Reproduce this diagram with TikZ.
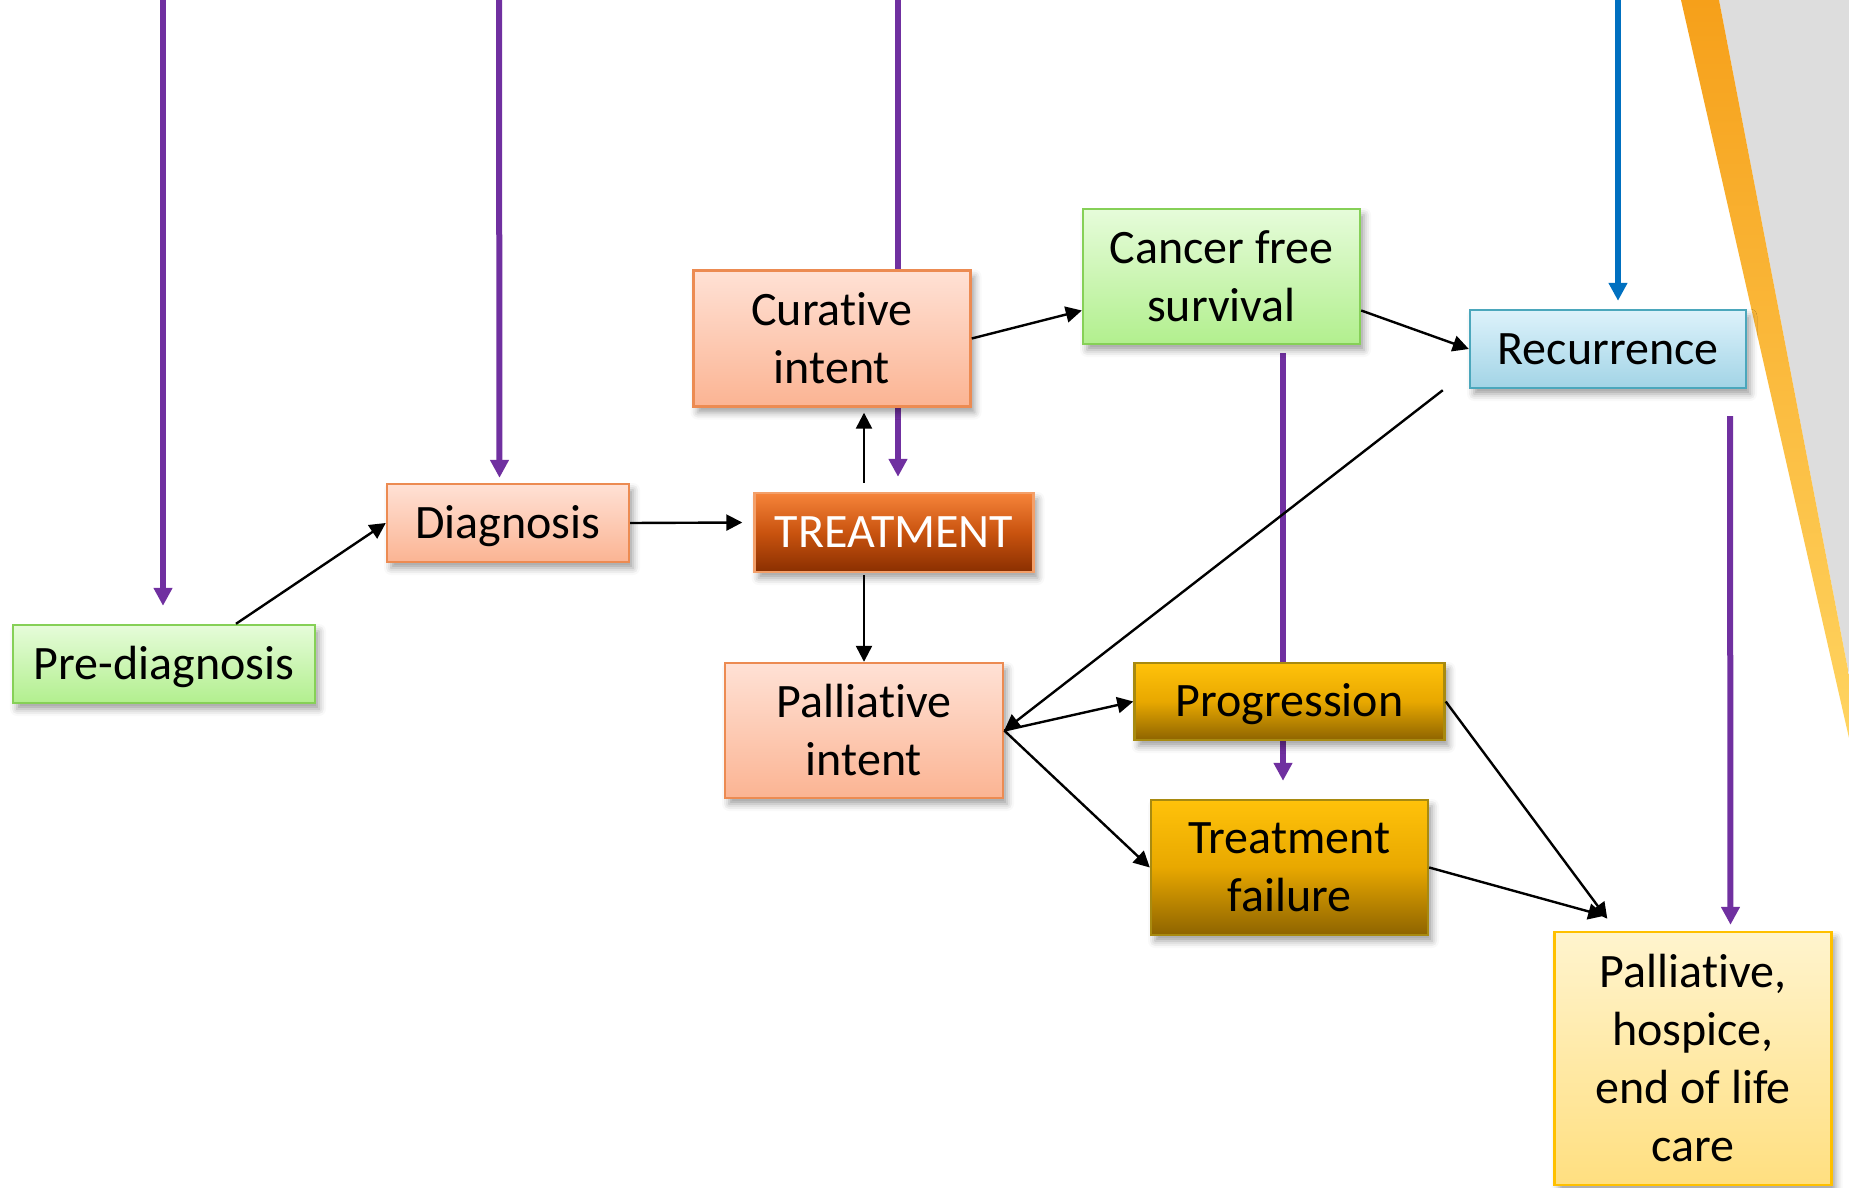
\documentclass[tikz,border=0pt]{standalone}
\usepackage{fontspec}
\setmainfont{Carlito}[Ligatures=NoCommon]
\usetikzlibrary{arrows.meta,shadows.blur}

% palette
\definecolor{greenTop}{HTML}{E6FCDA}
\definecolor{greenBot}{HTML}{B2EF8E}
\definecolor{greenEdge}{HTML}{86D057}
\definecolor{salmonTop}{HTML}{FFE1D5}
\definecolor{salmonBot}{HTML}{FBB493}
\definecolor{salmonEdge}{HTML}{EC8B52}
\definecolor{treatTop}{HTML}{F6843A}
\definecolor{treatMid}{HTML}{C9530F}
\definecolor{treatBot}{HTML}{8A2F00}
\definecolor{treatEdge}{HTML}{F3A06A}
\definecolor{aquaTop}{HTML}{DDF2FB}
\definecolor{aquaBot}{HTML}{A2D4E6}
\definecolor{aquaEdge}{HTML}{4BA7BC}
\definecolor{goldTop}{HTML}{FFC20A}
\definecolor{goldMid}{HTML}{E8A800}
\definecolor{goldBot}{HTML}{8E6400}
\definecolor{goldEdge}{HTML}{A88A10}
\definecolor{creamTop}{HTML}{FFF4CE}
\definecolor{creamBot}{HTML}{FFDF80}
\definecolor{creamEdge}{HTML}{FFC000}
\definecolor{trackPurple}{HTML}{7030A0}
\definecolor{trackBlue}{HTML}{0070C0}
\definecolor{wedgeGray}{HTML}{DDDDDD}
\definecolor{wedgeTop}{HTML}{F6A01A}
\definecolor{wedgeBot}{HTML}{FFD460}

\pgfdeclarelayer{back}
\pgfsetlayers{back,main}

\tikzset{
  stagebox/.style={draw, line width=1.2pt, inner sep=0pt, align=center,
    font=\fontsize{24}{29}\selectfont,
    blur shadow={shadow xshift=2pt, shadow yshift=-3pt,
      shadow blur radius=3.5pt, shadow opacity=38}},
  oneline/.style={text height=18.5pt, text depth=3.5pt},
  greenbox/.style={stagebox, draw=greenEdge, top color=greenTop, bottom color=greenBot},
  salmonbox/.style={stagebox, draw=salmonEdge, top color=salmonTop, bottom color=salmonBot},
  treatbox/.style={stagebox, draw=treatEdge, text=white,
    top color=treatTop, bottom color=treatBot, middle color=treatMid},
  aquabox/.style={stagebox, draw=aquaEdge, top color=aquaTop, bottom color=aquaBot},
  goldbox/.style={stagebox, draw=goldEdge,
    top color=goldTop, bottom color=goldBot, middle color=goldMid},
  creambox/.style={stagebox, draw=creamEdge, top color=creamTop, bottom color=creamBot},
  flow/.style={line width=1.2pt, -{Triangle[length=8pt,width=8pt]}},
  track/.style={line width=3pt, draw=trackPurple,
    -{Triangle[length=9pt,width=9pt,fill=trackPurple]}},
  bluetrack/.style={line width=3pt, draw=trackBlue,
    -{Triangle[length=9pt,width=9pt,fill=trackBlue]}},
}

\begin{document}
\begin{tikzpicture}[x=0.5pt,y=-0.5pt]
\useasboundingbox (0,0) rectangle (1849,1188);

% corner decoration
\fill[wedgeGray] (1719,0) -- (1849,0) -- (1849,675) -- cycle;
\shade[top color=wedgeTop, bottom color=wedgeBot]
  (1681,0) -- (1719,0) -- (1849,675) -- (1849,738) -- cycle;

% stages
\node[greenbox, oneline, minimum width=151pt, minimum height=39pt] (pre) at (164,664) {Pre-diagnosis};
\node[salmonbox, oneline, minimum width=121pt, minimum height=39pt] (diag) at (508,523) {Diagnosis};
\node[treatbox, oneline, minimum width=139.5pt, minimum height=39.5pt] (treat) at (894,532.5) {TREATMENT};
\node[salmonbox, minimum width=138.5pt, minimum height=68pt] (cur) at (832,338.5) {Curative\\intent};
\node[greenbox, minimum width=138.5pt, minimum height=67.5pt] (cfs) at (1221.5,276.5) {Cancer free\\survival};
\node[aquabox, oneline, minimum width=138pt, minimum height=39pt] (rec) at (1608,349) {Recurrence};
\node[salmonbox, minimum width=139pt, minimum height=67.5pt] (pint) at (864,730.5) {Palliative\\intent};
\node[goldbox, oneline, minimum width=155pt, minimum height=38.5pt] (prog) at (1289.5,701.5) {Progression};
\node[goldbox, minimum width=138.5pt, minimum height=67.5pt] (tf) at (1289.5,867.5) {Treatment\\failure};
\node[creambox, minimum width=138.5pt, minimum height=126.5pt] (phos) at (1693,1058.5) {Palliative,\\hospice,\\end of life\\care};

% free ends of the tracks along the top edge
\coordinate (t1) at (163,0);
\coordinate (t2) at (499,0);
\coordinate (t3) at (898,0);
\coordinate (t4) at (1618,0);
\coordinate (care) at ([xshift=27pt,yshift=6pt]phos.north west);

% tracks running behind the stages
\begin{pgfonlayer}{back}
  \draw[track] (t1) -- ([xshift=-0.5pt,yshift=9pt]pre.north);
  \draw[track] (t2) -- ([xshift=-4.25pt,yshift=2.5pt]diag.north);
  \draw[track] (t3) -- ([xshift=2pt,yshift=7.5pt]treat.north);
  \draw[track] ([xshift=30.75pt,yshift=-4pt]cfs.south) -- ([xshift=-3.25pt,yshift=9pt]tf.north);
  \draw[track] ([xshift=61pt,yshift=-13.5pt]rec.south) -- ([xshift=18.75pt,yshift=3pt]phos.north);
  \draw[bluetrack] (t4) -- ([xshift=5pt,yshift=4pt]rec.north);
\end{pgfonlayer}

% transitions
\draw[flow] ([xshift=36pt]pre.north) -- (diag.west);
\draw[flow] (diag.east) -- ([xshift=-5.5pt,yshift=5pt]treat.west);
\draw[flow] ([xshift=-15pt,yshift=4.5pt]treat.north) -- ([xshift=16pt,yshift=-2.5pt]cur.south);
\draw[flow] ([xshift=-15pt,yshift=-1pt]treat.south) -- (pint.north);
\draw[flow] (cur.east) -- ([yshift=-17pt]cfs.west);
\draw[flow] ([yshift=-17pt]cfs.east) -- (rec.west);
\draw[flow] ([xshift=-13pt,yshift=-0.5pt]rec.south west) -- (pint.east);
\draw[flow] (pint.east) -- (prog.west);
\draw[flow] (pint.east) -- (tf.west);
\draw[flow] (prog.east) -- (care);
\draw[flow] (tf.east) -- ([xshift=-1.5pt,yshift=1.5pt]care);
\end{tikzpicture}
\end{document}
